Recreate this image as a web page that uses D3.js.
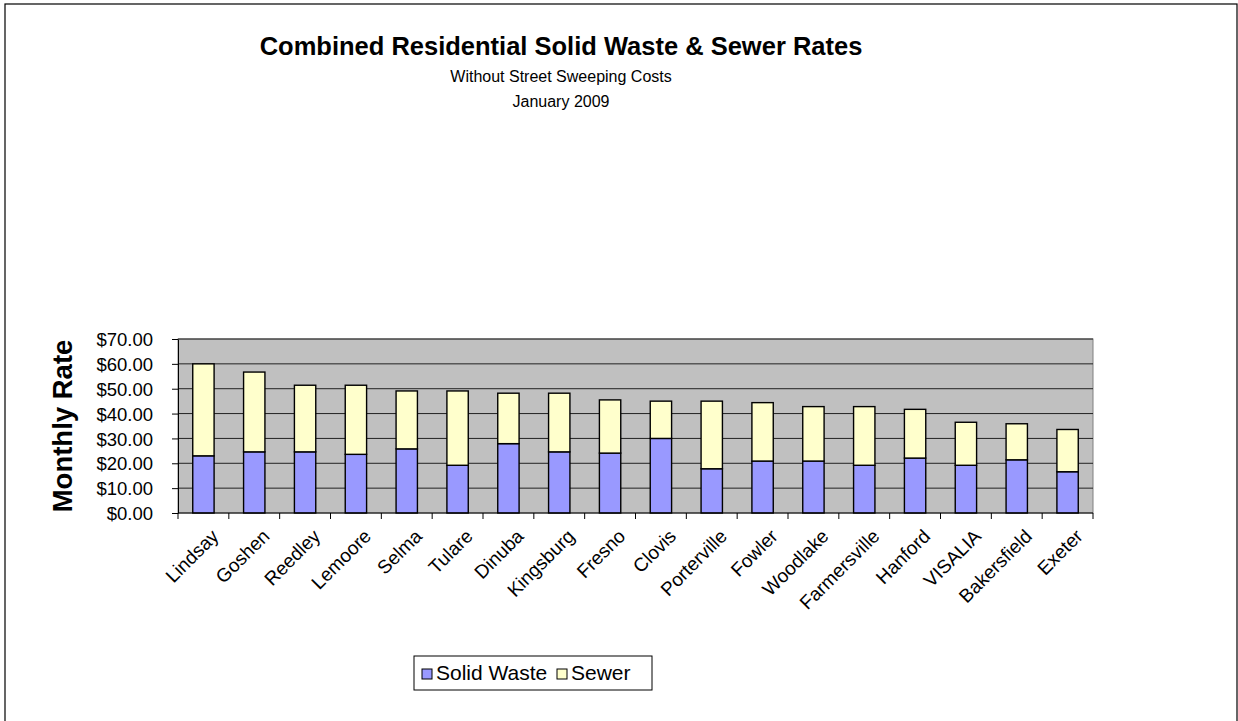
<!DOCTYPE html>
<html>
<head>
<meta charset="utf-8">
<script src="https://cdn.jsdelivr.net/npm/d3@7"></script>
<style>
  body { margin: 0; background: #fff; }
  svg { font-family: "Liberation Sans", Arial, sans-serif; }
</style>
</head>
<body>
<div class="chart"></div>
<script>
// data
const cities = ['Lindsay', 'Goshen', 'Reedley', 'Lemoore', 'Selma', 'Tulare', 'Dinuba', 'Kingsburg',
  'Fresno', 'Clovis', 'Porterville', 'Fowler', 'Woodlake', 'Farmersville', 'Hanford', 'VISALIA',
  'Bakersfield', 'Exeter'];
const solid_waste = [23.0, 24.6, 24.6, 23.6, 25.8, 19.2, 27.9, 24.6, 24.1, 30.0, 17.8, 20.9, 20.9, 19.2, 22.1, 19.2, 21.4, 16.6];
const sewer = [37.0, 32.1, 26.8, 27.8, 23.3, 29.9, 20.3, 23.6, 21.4, 15.0, 27.2, 23.5, 21.9, 23.6, 19.6, 17.3, 14.5, 17.0];
const y_ticks = [0, 10, 20, 30, 40, 50, 60, 70];
const series_names = ['Solid Waste', 'Sewer'];
const series_colors = ['#9999FF', '#FFFFCC'];

const width = 1238, height = 721;
const plot = {left: 178, right: 1093, top: 339, bottom: 513};

const svg = d3.select('.chart').append('svg')
  .attr('width', width).attr('height', height);

// outer frame
svg.append('rect')
  .attr('x', 5).attr('y', 4).attr('width', 1232).attr('height', 730)
  .attr('fill', '#fff').attr('stroke', '#000').attr('stroke-width', 1.2);

// titles
const title = svg.append('g').attr('text-anchor', 'middle');
title.append('text').attr('x', 561).attr('y', 55)
  .style('font-size', '25.5px').style('font-weight', 'bold').text('Combined Residential Solid Waste & Sewer Rates');
title.append('text').attr('x', 561).attr('y', 82)
  .style('font-size', '16px').text('Without Street Sweeping Costs');
title.append('text').attr('x', 561).attr('y', 107)
  .style('font-size', '16px').text('January 2009');

// scales
const x = d3.scaleBand().domain(cities).range([plot.left, plot.right]).paddingInner(0.58).paddingOuter(0.29);
const x_ticks = d3.scaleBand().domain(cities).range([plot.left, plot.right]);
const y = d3.scaleLinear().domain([0, 70]).range([plot.bottom, plot.top]);

// plot background
svg.append('rect')
  .attr('x', plot.left).attr('y', plot.top)
  .attr('width', plot.right - plot.left).attr('height', plot.bottom - plot.top)
  .attr('fill', '#C0C0C0').attr('stroke', '#808080').attr('stroke-width', 1);

// gridlines
svg.append('g').selectAll('line')
  .data(y_ticks.slice(1))
  .join('line')
  .attr('x1', plot.left).attr('x2', plot.right)
  .attr('y1', d => y(d)).attr('y2', d => y(d))
  .attr('stroke', '#222').attr('stroke-width', 1);

// stacked bars
const rows = cities.map((c, i) => ({city: c, 'Solid Waste': solid_waste[i], 'Sewer': sewer[i]}));
const stacked = d3.stack().keys(series_names)(rows);

svg.append('g').selectAll('g')
  .data(stacked)
  .join('g')
  .attr('fill', (d, i) => series_colors[i])
  .selectAll('rect')
  .data(d => d)
  .join('rect')
  .attr('x', d => x(d.data.city))
  .attr('width', x.bandwidth())
  .attr('y', d => y(d[1]))
  .attr('height', d => y(d[0]) - y(d[1]))
  .attr('stroke', '#000').attr('stroke-width', 1.4);

// y axis
const y_axis = d3.axisLeft(y).tickValues(y_ticks).tickSize(6).tickSizeOuter(0)
  .tickFormat(d => '$' + d3.format('.2f')(d));
svg.append('g')
  .attr('transform', `translate(${plot.left},0)`)
  .call(y_axis)
  .call(g => g.selectAll('text').style('font-size', '18.5px').attr('fill', '#000').attr('x', -25).attr('dy', '0.36em'))
  .call(g => g.selectAll('line').attr('stroke', '#000'))
  .call(g => g.select('.domain').attr('stroke', '#000'));

// x axis (ticks between categories)
const x_axis_g = svg.append('g').attr('transform', `translate(0,${plot.bottom})`);
x_axis_g.append('line').attr('x1', plot.left).attr('x2', plot.right).attr('stroke', '#000');
x_axis_g.selectAll('.tick')
  .data(cities.concat(['end']))
  .join('line')
  .attr('x1', (d, i) => i < cities.length ? x_ticks(d) : plot.right)
  .attr('x2', (d, i) => i < cities.length ? x_ticks(d) : plot.right)
  .attr('y1', 0).attr('y2', 6).attr('stroke', '#000');

x_axis_g.selectAll('text')
  .data(cities)
  .join('text')
  .attr('transform', d => `translate(${x(d) + x.bandwidth() / 2 + 7},${15}) rotate(-45)`)
  .attr('text-anchor', 'end')
  .attr('dy', '0.7em')
  .style('font-size', '19px')
  .text(d => d);

// y axis title
svg.append('text')
  .attr('transform', `translate(72,${(plot.top + plot.bottom) / 2}) rotate(-90)`)
  .attr('text-anchor', 'middle')
  .style('font-size', '27.5px').style('font-weight', 'bold')
  .text('Monthly Rate');

// legend
const legend = svg.append('g').attr('transform', 'translate(414,656)');
legend.append('rect').attr('width', 238).attr('height', 34)
  .attr('fill', '#fff').attr('stroke', '#000');
const items = legend.selectAll('g.item')
  .data(series_names)
  .join('g')
  .attr('class', 'item')
  .attr('transform', (d, i) => `translate(${i === 0 ? 8 : 143},0)`);
items.append('rect')
  .attr('y', 13).attr('width', 10).attr('height', 10)
  .attr('fill', (d, i) => series_colors[i]).attr('stroke', '#000');
items.append('text')
  .attr('x', 14).attr('y', 24)
  .style('font-size', '21px')
  .text(d => d);
</script>
</body>
</html>
